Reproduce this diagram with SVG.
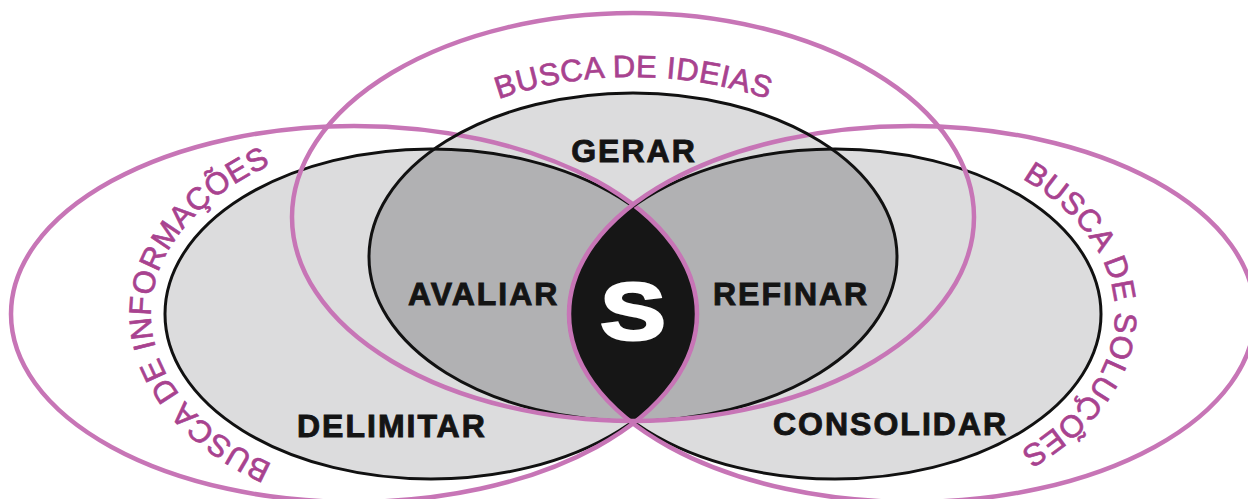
<svg xmlns="http://www.w3.org/2000/svg" xmlns:xlink="http://www.w3.org/1999/xlink" width="1248" height="499" viewBox="0 0 1248 499">
  <style>
    .light { fill: #dcdcdd; stroke: none; }
    .dark { fill: #b1b1b3; stroke: none; }
    .core { fill: #161616; stroke: none; }
    .outline { fill: none; stroke: #111111; stroke-width: 3; }
    .pink { fill: none; stroke: #c775b6; stroke-width: 4.5; }
    .label { font-family: "Liberation Sans", Arial, sans-serif; font-weight: bold; font-size: 32px; fill: #141414; stroke: #141414; stroke-width: 0.9; letter-spacing: 2px; }
    .arc { font-family: "Liberation Sans", Arial, sans-serif; font-size: 31px; fill: #a8428f; stroke: #a8428f; stroke-width: 0.7; letter-spacing: 0.5px; }
    .s { font-family: "Liberation Sans", Arial, sans-serif; font-weight: bold; font-size: 80px; fill: #ffffff; stroke: #ffffff; stroke-width: 3; }
  </style>
  <defs>
    <ellipse id="gL" cx="431" cy="314" rx="266" ry="165"/>
    <ellipse id="gR" cx="835" cy="314" rx="266" ry="165"/>
    <ellipse id="gT" cx="633" cy="257" rx="264" ry="164"/>
    <clipPath id="clipL"><use xlink:href="#gL"/></clipPath>
    <clipPath id="clipR"><use xlink:href="#gR"/></clipPath>
    <path id="pathT" d="M 353 257 A 280 180 0 0 1 913 257 A 280 180 0 0 1 353 257"/>
    <path id="pathL" d="M 431 496 A 280 182 0 0 1 151 314 A 280 182 0 0 1 431 132 A 280 182 0 0 1 711 314 A 280 182 0 0 1 431 496"/>
    <path id="pathR" d="M 835 132 A 280 182 0 0 1 1115 314 A 280 182 0 0 1 835 496 A 280 182 0 0 1 555 314 A 280 182 0 0 1 835 132"/>
  </defs>

  <rect x="0" y="0" width="1248" height="499" fill="#ffffff"/>

  <g id="fills">
    <use xlink:href="#gL" class="light"/>
    <use xlink:href="#gR" class="light"/>
    <use xlink:href="#gT" class="light"/>
    <use xlink:href="#gT" class="dark" clip-path="url(#clipL)"/>
    <use xlink:href="#gT" class="dark" clip-path="url(#clipR)"/>
    <use xlink:href="#gL" class="core" clip-path="url(#clipR)"/>
  </g>

  <g id="node-informacoes">
    <use xlink:href="#gL" class="outline"/>
    <ellipse cx="354" cy="314" rx="343" ry="188" class="pink"/>
    <text class="arc" text-anchor="middle"><textPath xlink:href="#pathL" startOffset="366">BUSCA DE INFORMAÇÕES</textPath></text>
    <text class="label" x="297" y="437">DELIMITAR</text>
  </g>

  <g id="node-solucoes">
    <use xlink:href="#gR" class="outline"/>
    <ellipse cx="912" cy="314" rx="343" ry="188" class="pink"/>
    <text class="arc" text-anchor="middle"><textPath xlink:href="#pathR" startOffset="368">BUSCA DE SOLUÇÕES</textPath></text>
    <text class="label" x="773" y="435">CONSOLIDAR</text>
  </g>

  <g id="node-ideias">
    <use xlink:href="#gT" class="outline"/>
    <ellipse cx="633" cy="217" rx="341" ry="204" class="pink"/>
    <text class="arc" text-anchor="middle"><textPath xlink:href="#pathT" startOffset="366">BUSCA DE IDEIAS</textPath></text>
    <text class="label" x="634" y="162" text-anchor="middle">GERAR</text>
  </g>

  <g id="node-avaliar">
    <text class="label" x="408" y="305">AVALIAR</text>
  </g>

  <g id="node-refinar">
    <text class="label" x="713" y="305">REFINAR</text>
  </g>

  <g id="node-s">
    <text class="s" text-anchor="middle" transform="translate(633 339) scale(1.22 1)">S</text>
  </g>

  <g id="connectors"/>
</svg>
